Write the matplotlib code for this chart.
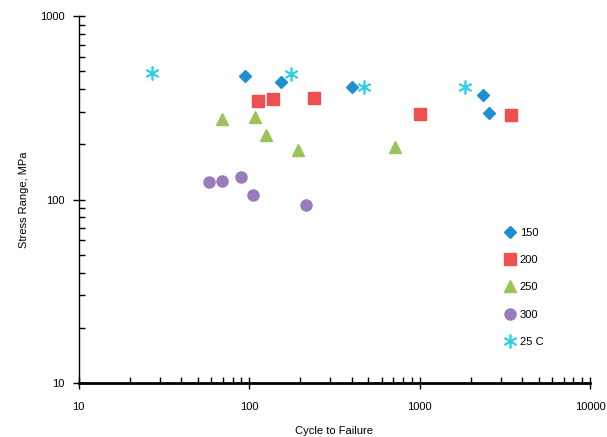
import matplotlib
matplotlib.use("Agg")
import matplotlib.pyplot as plt
from matplotlib.ticker import LogLocator, NullFormatter, FixedLocator, FixedFormatter

plt.rcParams['font.family'] = ['Liberation Sans', 'DejaVu Sans']

# Data (cycles to failure, stress range MPa)
x150 = [95, 153, 400, 2350, 2550]
y150 = [473, 435, 412, 371, 297]
x200 = [113, 139, 240, 1000, 3450]
y200 = [344, 353, 360, 291, 289]
x250 = [69, 109, 125, 194, 720]
y250 = [274, 281, 225, 186, 194]
x300 = [58, 69.5, 90, 106, 217]
y300 = [125, 127, 133, 106, 94]
x25 = [27, 176, 474, 1860]
y25 = [487, 483, 412, 409]

labels = ['150', '200', '250', '300', '25 C']
xticks = [10, 100, 1000, 10000]
xticklabels = ['10', '100', '1000', '10000']
yticks = [10, 100, 1000]
yticklabels = ['10', '100', '1000']

fig = plt.figure(figsize=(6.07, 4.37), dpi=100)
ax = fig.add_axes([0.1295, 0.1236, 0.9720 - 0.1295, 0.963 - 0.1236])

ax.plot(x150, y150, linestyle='none', marker='D', markersize=6, color='#1f8fd0', label=labels[0])
ax.plot(x200, y200, linestyle='none', marker='s', markersize=9, color='#ee5050', label=labels[1])
ax.plot(x250, y250, linestyle='none', marker='^', markersize=9, color='#9cc35a', label=labels[2])
ax.plot(x300, y300, linestyle='none', marker='o', markersize=8, color='#9a7bbd', label=labels[3])
ax.plot(x25, y25, linestyle='none', marker=(6, 2, 0), markersize=10, markeredgewidth=1.2,
        color='#2ad0e6', label=labels[4])

ax.set_xscale('log')
ax.set_yscale('log')
ax.set_xlim(10, 10000)
ax.set_ylim(10, 1000)

ax.xaxis.set_major_locator(FixedLocator(xticks))
ax.xaxis.set_major_formatter(FixedFormatter(xticklabels))
ax.yaxis.set_major_locator(FixedLocator(yticks))
ax.yaxis.set_major_formatter(FixedFormatter(yticklabels))
ax.xaxis.set_minor_locator(LogLocator(base=10, subs=range(2, 10)))
ax.yaxis.set_minor_locator(LogLocator(base=10, subs=range(2, 10)))
ax.xaxis.set_minor_formatter(NullFormatter())
ax.yaxis.set_minor_formatter(NullFormatter())

ax.tick_params(which='major', direction='inout', length=8, width=1, labelsize=8, color='black')
ax.tick_params(which='minor', direction='in', length=4, width=1, color='black')
ax.tick_params(axis='x', which='major', pad=10)
ax.tick_params(axis='y', which='major', pad=6)

for s in ['top', 'right']:
    ax.spines[s].set_visible(False)
ax.spines['bottom'].set_linewidth(2)
ax.spines['left'].set_linewidth(1)

ax.set_xlabel('Cycle to Failure', fontsize=8, labelpad=10)
ax.set_ylabel('Stress Range, MPa', fontsize=8, labelpad=8)

leg = ax.legend(loc='upper left', bbox_to_anchor=(0.826, 0.435), frameon=False,
                fontsize=8, labelspacing=1.55, handlelength=0.8, handletextpad=0.5,
                borderaxespad=0)

fig.savefig('out.png', dpi=100)
